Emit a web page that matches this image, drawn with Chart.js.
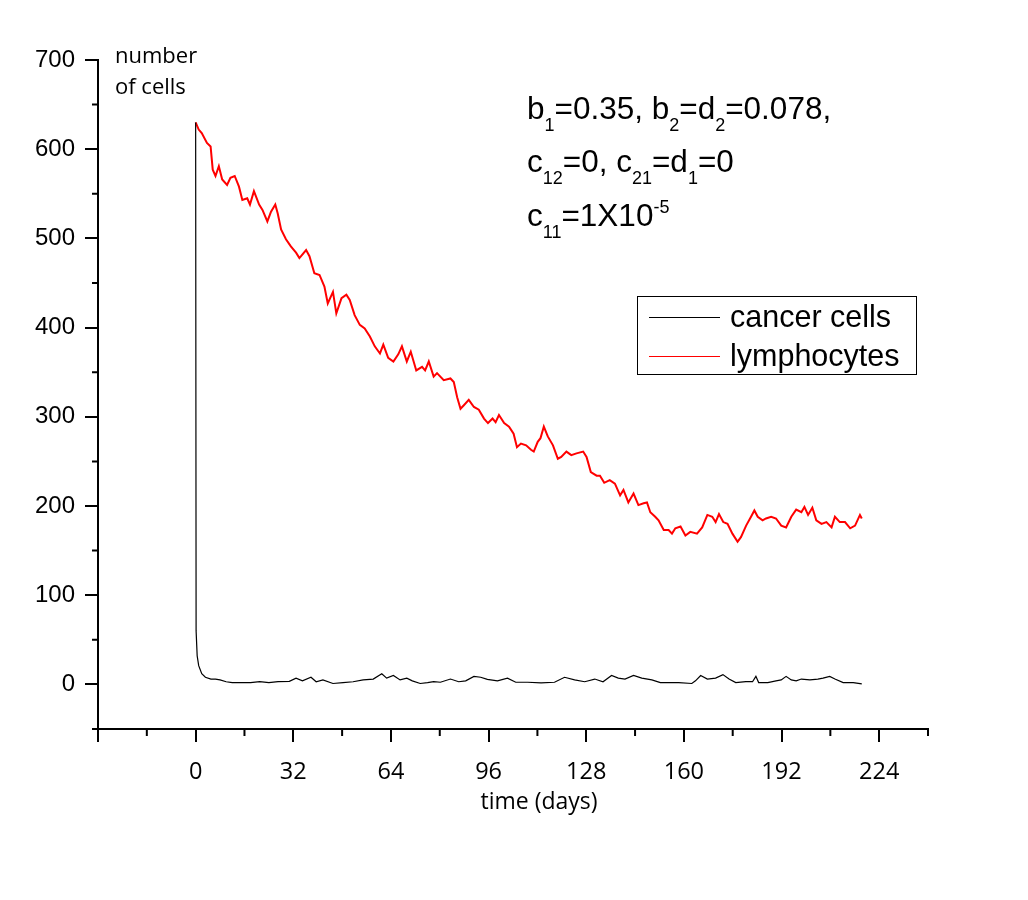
<!DOCTYPE html>
<html>
<head>
<meta charset="utf-8">
<script src="https://cdn.jsdelivr.net/npm/chart.js@4.4.1/dist/chart.umd.min.js"></script>
<style>
  html, body { margin: 0; padding: 0; background: #fff; }
  #wrap { width: 1028px; height: 900px; }
</style>
</head>
<body>
<div id="wrap"><canvas id="chart" width="1028" height="900"></canvas></div>
<script>
// series: [day, number of cells]
const cancerCells = [
    [0,630],[0.15,60],[0.5,32],[1,21],[2,12],[3.2,8],[5,6],[6.5,6],[8,5],[10,3],
    [12,2],[15,2],[18,2],[21,3],[24,2],[27,3],[30.7,3.4],[32.9,7],[35,4],[37.8,8],
    [39.5,3],[41.7,5],[45,1],[48.3,2],[51.6,3],[54.9,5],[58.2,6],[61,12],[62.6,7],[64.8,10],
    [67,5],[69.2,7],[71,4],[73.6,1],[76,2],[78,3],[80.2,2.4],[83.5,6],[86.2,3],[88.5,4],
    [91.2,9],[93.4,8],[95.6,5.6],[98.9,4],[102.2,7],[104.9,2.4],[108.8,2.4],[113.2,1.7],[117.6,2.4],[120.9,8],
    [124.2,5],[127.5,3],[130.8,6],[133.5,3],[136.3,10],[138.5,7],[140.7,6],[143.5,10],[146.2,7],[149.5,5],
    [152.3,2],[155,2],[158.3,2],[162.6,1],[163.8,4],[165.5,10],[167.7,6],[170.4,7],[172.8,11],[174.8,6],
    [177,2],[180.3,3],[182.5,3],[183.6,9],[184.5,2],[187.5,2],[190.2,4],[191.9,5],[193.5,9],[195.2,5],
    [196.8,4],[198.5,6],[201.3,5],[203.9,6],[205.6,7],[207.8,9],[209.5,6],[212.2,2],[215.5,2],[218.3,0.5]
];

const lymphocytes = [
    [0,630],[1,622],[2,618],[3.7,607],[4.9,603],[5.6,577],[6.5,570],[7.6,581],[8.7,566],[10.3,560],
    [11.4,568],[12.8,570],[14.2,558],[15.3,543],[16.9,545],[17.8,538],[19.1,553],[20.8,538],[21.9,532],[23.5,519],
    [24.7,530],[26.1,538],[26.9,528],[28,510],[29.6,499],[31.2,491],[32.9,484],[34,478],[36.2,487],[37.3,480],
    [38.9,461],[40.6,459],[42.2,446],[43.3,427],[45,440],[46.1,416],[47.8,433],[49.4,437],[50.5,431],[52.1,414],
    [53.8,403],[55.4,399],[57.1,390],[58.7,379],[60.4,371],[61.5,381],[63.1,366],[64.8,362],[66.4,370],[67.6,379],
    [69.2,362],[70.5,373],[72.3,352],[74.2,356],[75.2,352],[76.4,362],[78,345],[79.1,349],[81.3,341],[83.5,343],
    [84.6,339],[85.7,322],[86.8,309],[87.9,313],[89.5,319],[91.2,311],[92.8,308],[94.5,298],[95.8,293],[97.3,298],
    [98.3,294],[99.4,302],[101.1,293],[102.7,289],[104.2,281],[105.3,266],[106.6,270],[108.3,268],[109.9,263],[110.8,261],
    [112.1,272],[113,276],[114.1,289],[115.4,278],[117.1,268],[118.7,253],[119.8,255],[121.5,261],[123.1,257],[124.8,259],
    [127,261],[128.1,255],[129.5,238],[131.4,234],[132.5,234],[133.9,226],[135.7,229],[137.4,225],[139.1,212],[140.2,218],
    [141.8,204],[143.5,214],[145.1,201],[146.8,203],[147.9,204],[149,193],[150.6,188],[151.7,184],[153.4,173],[155,173],
    [156.1,169],[157.2,175],[158.9,177],[160.5,167],[162.1,171],[164.3,169],[166,176],[167.7,190],[169.3,188],[170.4,182],
    [171.5,191],[172.9,182],[174.3,180],[175.9,169],[177.6,160],[178.7,165],[180.4,178],[182,188],[183.1,195],[184.2,188],
    [185.8,184],[186.9,186],[188.6,188],[190.2,186],[191.9,178],[193.5,176],[195.2,188],[196.8,196],[198.5,193],[199.5,199],
    [200.7,190],[202.1,198],[203.4,184],[205.1,180],[206.7,182],[208.4,176],[209.5,188],[211.1,182],[212.8,182],[214.5,175],
    [216.1,178],[217.7,190],[218.3,186]
];

const seriesNames = ["cancer cells", "lymphocytes"];
const seriesColors = ["#000000", "#ff0000"];

// axis ranges and tick steps
const X_MIN = -32, X_MAX = 240, X_STEP = 16, X_LABEL_STEP = 32;
const Y_MIN = -50, Y_MAX = 700, Y_STEP = 50, Y_LABEL_STEP = 100;

// parameter text, split into [text, kind] runs
const paramLines = [
    [["b", "n"], ["1", "sub"], ["=0.35, b", "n"], ["2", "sub"], ["=d", "n"], ["2", "sub"], ["=0.078,", "n"]],
    [["c", "n"], ["12", "sub"], ["=0, c", "n"], ["21", "sub"], ["=d", "n"], ["1", "sub"], ["=0", "n"]],
    [["c", "n"], ["11", "sub"], ["=1X10", "n"], ["-5", "sup"]]
];

const ARIAL = '"Liberation Sans", Arial, sans-serif';
const CALIBRI = '"Open Sans", sans-serif';

function toXY(pairs) {
    return pairs.map(p => ({ x: p[0], y: p[1] }));
}

const decor = {
    id: "decor",
    afterDraw(chart) {
        const ctx = chart.ctx;
        const xs = chart.scales.x;
        const ys = chart.scales.y;
        const area = chart.chartArea;
        ctx.save();

        // minor ticks
        ctx.strokeStyle = "#000";
        ctx.lineWidth = 2;
        ctx.beginPath();
        for (let v = X_MIN; v <= X_MAX; v += X_STEP) {
            if (v % X_LABEL_STEP === 0) continue;
            const px = xs.getPixelForValue(v);
            ctx.moveTo(px, area.bottom);
            ctx.lineTo(px, area.bottom + 7);
        }
        for (let v = Y_MIN; v <= Y_MAX; v += Y_STEP) {
            if (v % Y_LABEL_STEP === 0) continue;
            const py = ys.getPixelForValue(v);
            ctx.moveTo(area.left, py);
            ctx.lineTo(area.left - 6, py);
        }
        ctx.stroke();

        // axis titles
        ctx.fillStyle = "#000";
        ctx.textBaseline = "alphabetic";
        ctx.textAlign = "left";
        ctx.font = "22px " + CALIBRI;
        ctx.fillText("number", 115, 63);
        ctx.fillText("of cells", 115, 94);
        ctx.font = "23px " + CALIBRI;
        ctx.textAlign = "center";
        ctx.fillText("time (days)", 539, 809);

        // parameter block
        ctx.textAlign = "left";
        const baselines = [119, 172, 226];
        paramLines.forEach((runs, i) => {
            let x = 527;
            runs.forEach(([txt, kind]) => {
                let dy = 0;
                if (kind === "n") ctx.font = "31.5px " + ARIAL;
                else ctx.font = "18px " + ARIAL;
                if (kind === "sub") dy = 12;
                if (kind === "sup") dy = -13;
                ctx.fillText(txt, x, baselines[i] + dy);
                x += ctx.measureText(txt).width;
            });
        });

        // legend box
        ctx.lineWidth = 1;
        ctx.strokeStyle = "#000";
        ctx.strokeRect(637.5, 296.5, 279, 78);
        ctx.font = "30.5px " + ARIAL;
        const rows = [317, 356];
        chart.data.datasets.forEach((ds, i) => {
            ctx.strokeStyle = ds.borderColor;
            ctx.lineWidth = 1;
            ctx.beginPath();
            ctx.moveTo(649, rows[i] + 0.5);
            ctx.lineTo(720, rows[i] + 0.5);
            ctx.stroke();
            ctx.fillStyle = "#000";
            ctx.fillText(ds.label, 730, rows[i] + 10);
        });

        ctx.restore();
    }
};

new Chart(document.getElementById("chart"), {
    type: "line",
    data: {
        datasets: [
            {
                label: seriesNames[0],
                data: toXY(cancerCells),
                borderColor: seriesColors[0],
                borderWidth: 1.2,
                pointRadius: 0,
                tension: 0
            },
            {
                label: seriesNames[1],
                data: toXY(lymphocytes),
                borderColor: seriesColors[1],
                borderWidth: 2,
                pointRadius: 0,
                tension: 0
            }
        ]
    },
    options: {
        responsive: false,
        animation: false,
        devicePixelRatio: 1,
        layout: { padding: { left: 0, top: 60, right: 100, bottom: 0 } },
        plugins: {
            legend: { display: false },
            tooltip: { enabled: false }
        },
        scales: {
            x: {
                type: "linear",
                min: X_MIN,
                max: X_MAX,
                afterFit: s => { s.height = 171; },
                border: { display: true, color: "#000", width: 2 },
                grid: {
                    drawOnChartArea: false,
                    drawTicks: true,
                    tickLength: 13,
                    lineWidth: 2,
                    color: c => (c.tick && c.tick.value % X_LABEL_STEP === 0) ? "#000" : "rgba(0,0,0,0)"
                },
                ticks: {
                    stepSize: X_STEP,
                    autoSkip: false,
                    maxRotation: 0,
                    padding: 16,
                    color: "#000",
                    font: { family: CALIBRI, size: 23.5 },
                    callback: v => (v % X_LABEL_STEP === 0 && v >= 0 && v <= 224) ? v : ""
                }
            },
            y: {
                type: "linear",
                min: Y_MIN,
                max: Y_MAX,
                afterFit: s => { s.width = 98; },
                border: { display: true, color: "#000", width: 2 },
                grid: {
                    drawOnChartArea: false,
                    drawTicks: true,
                    tickLength: 13,
                    lineWidth: 2,
                    color: c => (c.tick && c.tick.value % Y_LABEL_STEP === 0) ? "#000" : "rgba(0,0,0,0)"
                },
                ticks: {
                    stepSize: Y_STEP,
                    autoSkip: false,
                    padding: 10,
                    color: "#000",
                    font: { family: ARIAL, size: 24 },
                    callback: v => (v % Y_LABEL_STEP === 0) ? v : ""
                }
            }
        }
    },
    plugins: [decor]
});
</script>
</body>
</html>
